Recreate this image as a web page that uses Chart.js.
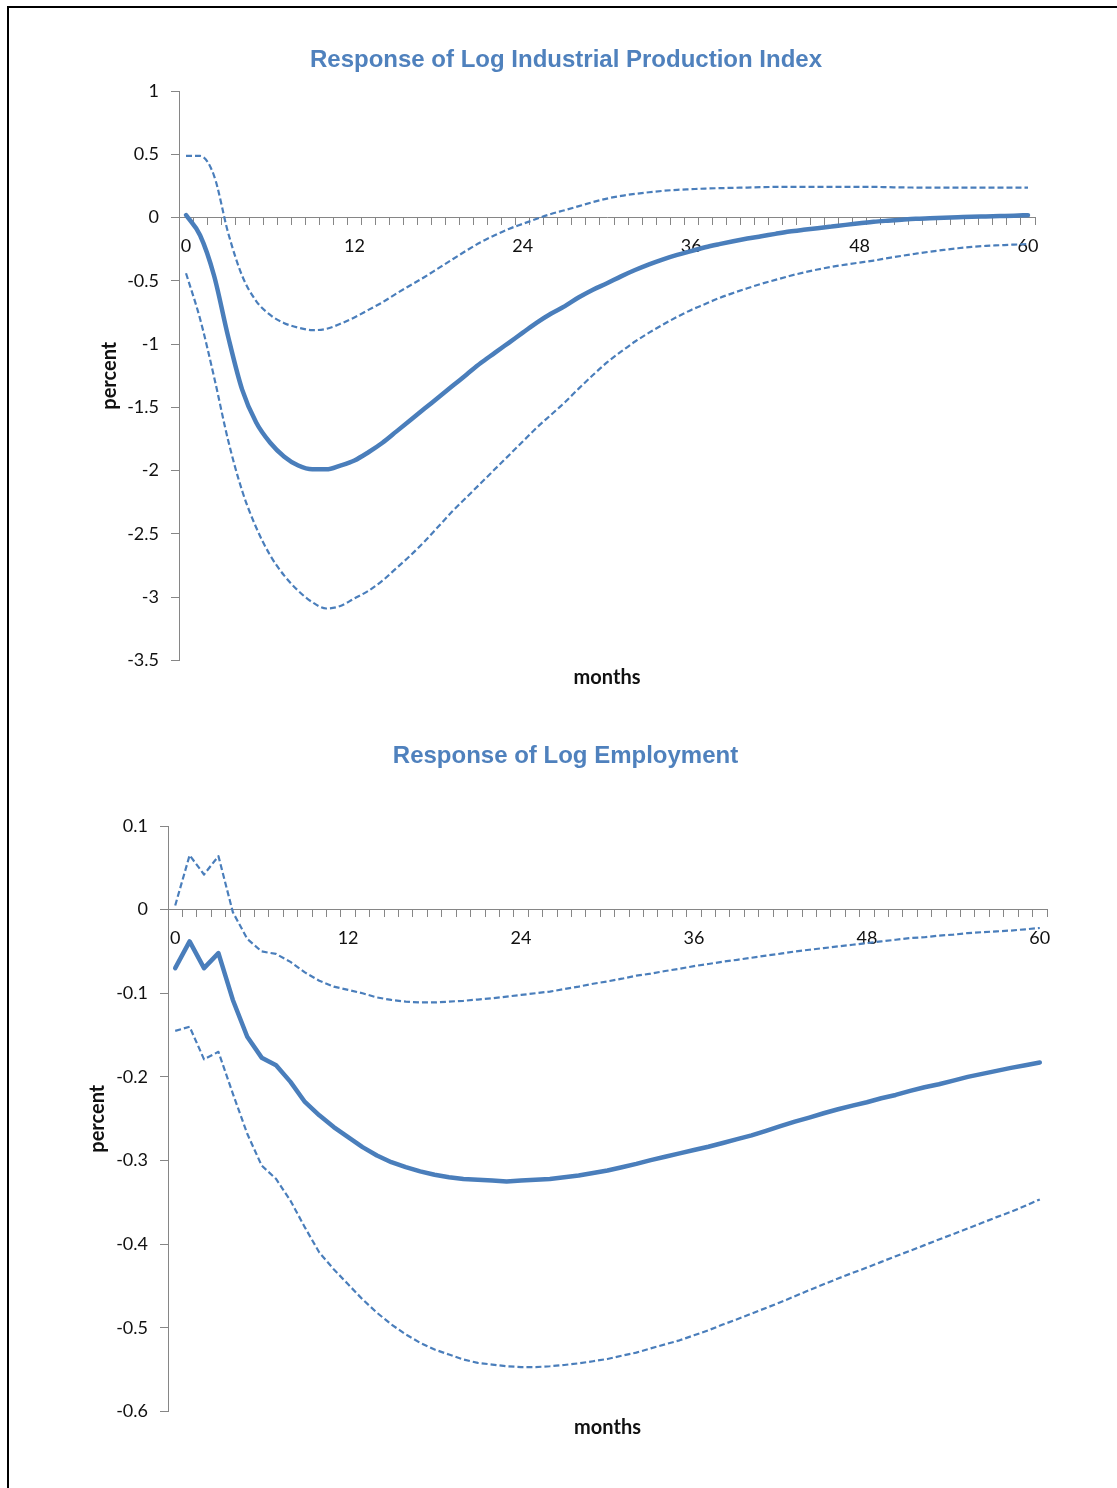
<!DOCTYPE html>
<html>
<head>
<meta charset="utf-8">
<script src="https://cdn.jsdelivr.net/npm/chart.js@4.4.1/dist/chart.umd.min.js"></script>
<style>
html,body{margin:0;padding:0;background:#fff;overflow:hidden;width:1117px;height:1488px;}
#frame{position:absolute;left:7px;top:6px;width:1300px;height:1600px;border-top:2px solid #000;border-left:2px solid #000;}
.box{position:absolute;left:9px;width:1114px;}
</style>
</head>
<body>
<div id="frame"></div>
<div class="box" style="top:0;height:712px"><canvas id="c1"></canvas></div>
<div class="box" style="top:712px;height:776px"><canvas id="c2"></canvas></div>
<script>
// ---- data ----
const months = [0,1,2,3,4,5,6,7,8,9,10,11,12,13,14,15,16,17,18,19,20,21,22,23,24,25,26,27,28,29,30,
  31,32,33,34,35,36,37,38,39,40,41,42,43,44,45,46,47,48,49,50,51,52,53,54,55,56,57,58,59,60];
const xLabelStep = 12;

const ipTitle = 'Response of Log Industrial Production Index';
const ipTicks = [1, 0.5, 0, -0.5, -1, -1.5, -2, -2.5, -3, -3.5];
const ipResponse = [0.02,-0.14,-0.46,-0.94,-1.36,-1.62,-1.78,-1.89,-1.96,-1.99,
  -1.99,-1.96,-1.92,-1.855,-1.78,-1.69,-1.60,-1.51,-1.42,-1.33,
  -1.24,-1.15,-1.07,-0.99,-0.91,-0.83,-0.76,-0.70,-0.63,-0.57,
  -0.52,-0.465,-0.415,-0.37,-0.33,-0.295,-0.265,-0.235,-0.21,-0.187,
  -0.166,-0.148,-0.129,-0.111,-0.097,-0.084,-0.071,-0.058,-0.046,-0.034,
  -0.025,-0.017,-0.01,-0.006,-0.002,0.002,0.006,0.009,0.012,0.015,0.019];
const ipUpper = [0.487,0.487,0.33,-0.12,-0.46,-0.66,-0.77,-0.835,-0.87,-0.89,
  -0.88,-0.84,-0.79,-0.73,-0.67,-0.60,-0.535,-0.47,-0.40,-0.33,
  -0.26,-0.195,-0.14,-0.09,-0.05,-0.01,0.028,0.058,0.09,0.122,
  0.15,0.171,0.187,0.2,0.211,0.219,0.224,0.229,0.232,0.235,
  0.237,0.24,0.242,0.242,0.243,0.243,0.243,0.243,0.242,0.242,
  0.24,0.238,0.237,0.236,0.236,0.236,0.236,0.236,0.236,0.236,0.236];
const ipLower = [-0.44,-0.80,-1.26,-1.76,-2.16,-2.45,-2.67,-2.83,-2.95,-3.04,
  -3.09,-3.07,-3.01,-2.95,-2.87,-2.77,-2.67,-2.56,-2.44,-2.32,
  -2.21,-2.10,-1.99,-1.88,-1.77,-1.66,-1.56,-1.46,-1.35,-1.245,
  -1.145,-1.06,-0.98,-0.91,-0.845,-0.785,-0.73,-0.683,-0.636,-0.596,
  -0.559,-0.524,-0.493,-0.462,-0.435,-0.411,-0.39,-0.372,-0.356,-0.34,
  -0.321,-0.303,-0.286,-0.27,-0.256,-0.243,-0.232,-0.224,-0.219,-0.214,-0.21];

const empTitle = 'Response of Log Employment';
const empTicks = [0.1, 0, -0.1, -0.2, -0.3, -0.4, -0.5, -0.6];
const empResponse = [-0.07,-0.038,-0.07,-0.052,-0.108,-0.152,-0.177,-0.186,-0.206,-0.23,
  -0.246,-0.26,-0.272,-0.284,-0.294,-0.302,-0.308,-0.313,-0.317,-0.32,
  -0.322,-0.323,-0.324,-0.325,-0.324,-0.323,-0.322,-0.32,-0.318,-0.315,
  -0.312,-0.308,-0.304,-0.2995,-0.2955,-0.2915,-0.2875,-0.2835,-0.279,-0.2745,
  -0.27,-0.2645,-0.259,-0.2535,-0.2487,-0.2435,-0.2387,-0.2343,-0.2303,-0.2255,
  -0.2216,-0.2168,-0.2124,-0.2088,-0.2044,-0.2,-0.1964,-0.1928,-0.1892,-0.186,-0.1828];
const empUpper = [0.005,0.065,0.042,0.064,-0.003,-0.035,-0.05,-0.053,-0.0625,-0.075,
  -0.085,-0.092,-0.096,-0.1,-0.105,-0.108,-0.11,-0.111,-0.111,-0.11,
  -0.109,-0.1075,-0.106,-0.104,-0.102,-0.1,-0.098,-0.095,-0.092,-0.0886,
  -0.0858,-0.0826,-0.079,-0.0766,-0.0734,-0.0707,-0.0675,-0.065,-0.0623,-0.06,
  -0.0575,-0.055,-0.0527,-0.05,-0.048,-0.046,-0.044,-0.042,-0.04,-0.038,
  -0.036,-0.034,-0.033,-0.031,-0.03,-0.028,-0.027,-0.026,-0.025,-0.0235,-0.022];
const empLower = [-0.145,-0.14,-0.179,-0.17,-0.22,-0.268,-0.306,-0.322,-0.348,-0.38,
  -0.41,-0.43,-0.448,-0.466,-0.482,-0.496,-0.508,-0.518,-0.526,-0.532,
  -0.538,-0.542,-0.544,-0.546,-0.547,-0.547,-0.546,-0.5445,-0.5425,-0.54,
  -0.5373,-0.5333,-0.5297,-0.5246,-0.5198,-0.515,-0.509,-0.503,-0.4962,-0.4898,
  -0.483,-0.4763,-0.4695,-0.4623,-0.455,-0.448,-0.4411,-0.4344,-0.428,-0.4212,
  -0.4144,-0.408,-0.4012,-0.3944,-0.388,-0.3812,-0.3745,-0.3677,-0.3613,-0.3541,-0.3465];

// ---- styles ----
const LINE = '#4A7EBB';
const TITLE = '#4F81BD';
const AXIS = '#868686';
const TEXT = '#111111';
const tickFont = {family: 'Lato', size: 18};
const labelFont = {family: 'Lato', size: 20, weight: 'bold'};

function fmt(v) { return String(Number(v.toFixed(2))); }

function makeChart(id, o) {
  const ds = (data, main, smooth) => ({
    data: data,
    borderColor: LINE,
    backgroundColor: LINE,
    borderWidth: main ? 4.5 : 2.2,
    borderDash: main ? [] : [6, 3],
    borderJoinStyle: 'round',
    borderCapStyle: main ? 'round' : 'butt',
    pointRadius: 0,
    fill: false,
    tension: smooth ? 0.3 : 0,
    cubicInterpolationMode: smooth ? 'monotone' : 'default'
  });
  return new Chart(document.getElementById(id), {
    type: 'line',
    data: {
      labels: months,
      datasets: [ds(o.upper, false, o.smooth), ds(o.lower, false, o.smooth), ds(o.main, true, o.smooth)]
    },
    options: {
      responsive: true,
      maintainAspectRatio: false,
      animation: false,
      events: [],
      layout: {padding: {left: o.padL, right: o.padR, top: 0, bottom: o.padB}},
      plugins: {
        legend: {display: false},
        tooltip: {enabled: false},
        title: {
          display: true, text: o.title, color: TITLE,
          font: {family: 'Liberation Sans', size: 24, weight: 'bold'},
          padding: {top: o.tTop, bottom: o.tBot}
        },
        subtitle: {
          display: true, text: 'months', position: 'bottom', fullSize: false,
          color: TEXT, font: labelFont,
          padding: {top: o.sTop, bottom: o.sBot}
        }
      },
      scales: {
        x: {
          type: 'category',
          position: {y: 0},
          offset: true,
          grid: {offset: true, drawOnChartArea: false, drawTicks: true, tickLength: 7, color: AXIS, lineWidth: 1},
          border: {display: true, color: AXIS, width: 1},
          ticks: {
            autoSkip: false, maxRotation: 0, minRotation: 0, padding: 11,
            color: TEXT, font: tickFont,
            callback: (v, i) => (i % xLabelStep === 0 ? String(months[i]) : '')
          }
        },
        y: {
          min: o.ticks[o.ticks.length - 1],
          max: o.ticks[0],
          afterBuildTicks: s => { s.ticks = o.ticks.map(v => ({value: v})); },
          afterFit: s => { s.width = o.yW; },
          grid: {drawOnChartArea: false, tickLength: 8, color: AXIS, lineWidth: 1},
          border: {display: true, color: AXIS, width: 1},
          ticks: {padding: 12, color: TEXT, font: tickFont, callback: v => fmt(v)},
          title: {display: true, text: 'percent', color: TEXT, font: labelFont, padding: {top: o.yTitlePad, bottom: 0}}
        }
      }
    }
  });
}

makeChart('c1', {
  title: ipTitle, ticks: ipTicks, main: ipResponse, upper: ipUpper, lower: ipLower, smooth: true,
  padL: 88, padR: 88, padB: 22.6, yW: 82, yTitlePad: 1,
  tTop: 45.6, tBot: 16.6, sTop: 5, sBot: 0
});
makeChart('c2', {
  title: empTitle, ticks: empTicks, main: empResponse, upper: empUpper, lower: empLower, smooth: false,
  padL: 75, padR: 76, padB: 48.6, yW: 84, yTitlePad: 2,
  tTop: 29.6, tBot: 55.6, sTop: 4, sBot: 0
});
</script>
</body>
</html>
